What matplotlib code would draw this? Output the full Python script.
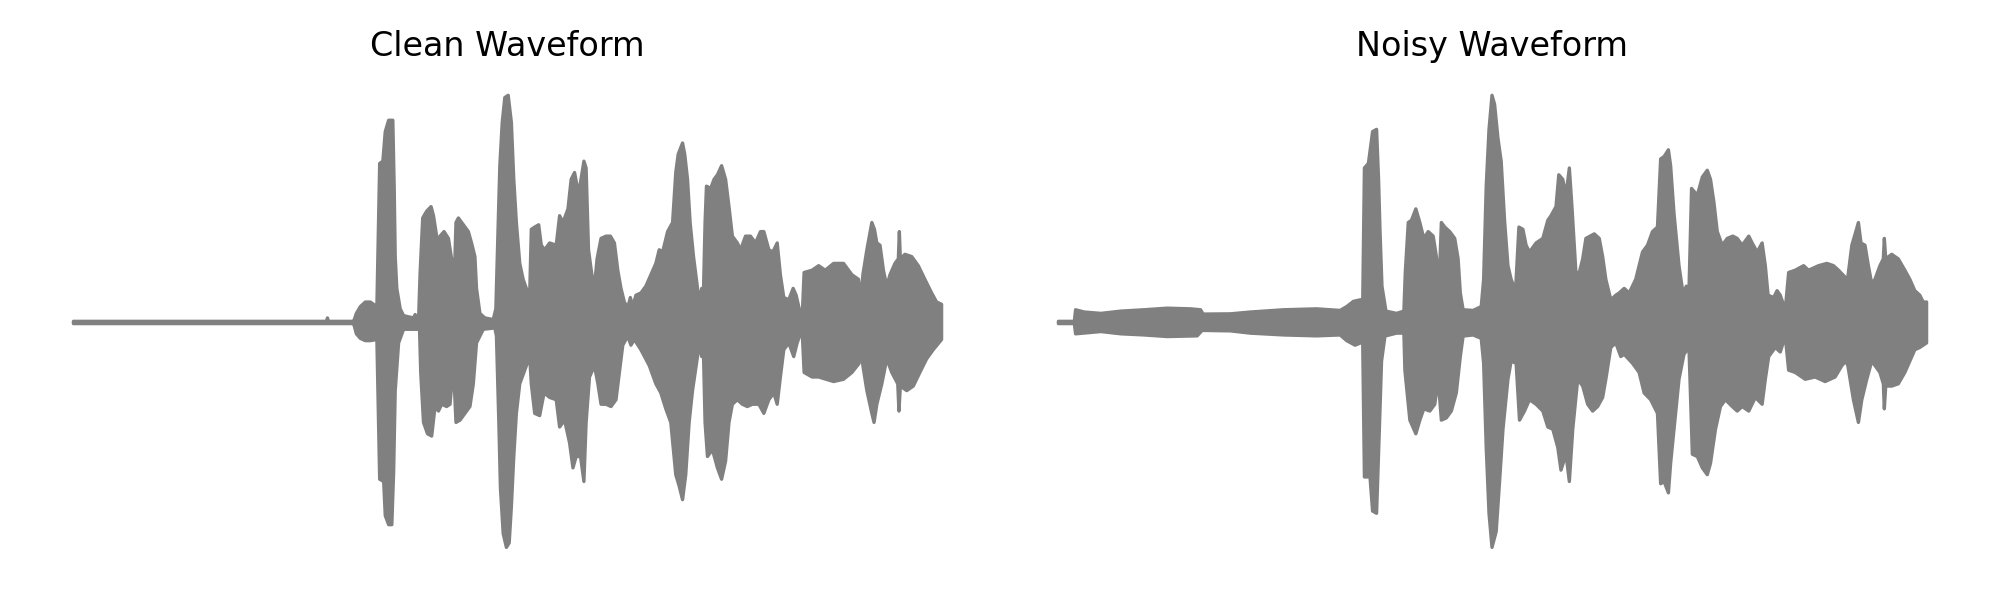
import numpy as np
import matplotlib
matplotlib.use("Agg")
import matplotlib.pyplot as plt

# envelope of the waveforms
# time in ms, amplitude normalised to the loudest peak

clean_t_up = [0, 1270, 1275, 1280, 1405, 1407, 1420, 1440, 1465,
              1490, 1523, 1537, 1553, 1565, 1582, 1603, 1610, 1615, 1623,
              1640, 1657, 1707, 1715, 1732, 1740, 1753, 1773, 1795, 1807,
              1823, 1832, 1840, 1860, 1882, 1898, 1910, 1920, 1932, 1957,
              1982, 1998, 2015, 2023, 2040, 2065, 2107, 2120, 2132, 2140,
              2152, 2165, 2182, 2198, 2210, 2223, 2240, 2257, 2273, 2290, 2298,
              2315, 2335, 2348, 2365, 2390, 2423, 2440, 2457, 2482, 2498,
              2515, 2528, 2540, 2562, 2573, 2585, 2602, 2615, 2628, 2648,
              2673, 2695, 2715, 2732, 2748, 2765, 2782, 2795, 2807, 2823,
              2848, 2873, 2898, 2923, 2940, 2957, 2982, 3007, 3023, 3035,
              3057, 3068, 3082, 3095, 3112, 3128,
              3140, 3153, 3160, 3170, 3177, 3198, 3215, 3232, 3253, 3273,
              3290, 3307, 3332, 3348, 3373, 3398, 3423, 3448, 3465, 3490,
              3510, 3532, 3548, 3565, 3590, 3612, 3627, 3640, 3657, 3667, 3707,
              3740, 3773, 3815, 3865, 3907, 3940, 3953, 3962, 3982, 4007,
              4020, 4032, 4048, 4065, 4082, 4098, 4123, 4140, 4145, 4150,
              4173, 4207, 4240, 4273, 4307, 4332, 4357]
clean_up = [0.005, 0.005, 0.02, 0.005, 0.005, 0.006, 0.04, 0.07, 0.09,
            0.09, 0.07, 0.70, 0.71, 0.84, 0.89, 0.89, 0.59, 0.29, 0.15,
            0.06, 0.03, 0.02, 0.035, 0.01, 0.22, 0.46, 0.49, 0.51, 0.47,
            0.38, 0.32, 0.38, 0.40, 0.37, 0.28, 0.15, 0.44, 0.46, 0.43,
            0.40, 0.35, 0.29, 0.15, 0.04, 0.02, 0.013, 0.06, 0.44, 0.69,
            0.88, 0.99, 1.00, 0.88, 0.63, 0.44, 0.26, 0.19, 0.15, 0.13, 0.41,
            0.42, 0.43, 0.34, 0.32, 0.35, 0.34, 0.47, 0.44, 0.50, 0.63,
            0.66, 0.60, 0.59, 0.71, 0.68, 0.32, 0.21, 0.16, 0.28, 0.37,
            0.38, 0.38, 0.35, 0.23, 0.15, 0.09, 0.065, 0.11, 0.07, 0.12,
            0.13, 0.16, 0.21, 0.26, 0.32, 0.31, 0.40, 0.44, 0.66, 0.74,
            0.79, 0.74, 0.63, 0.44, 0.29, 0.18,
            0.09, 0.15, 0.06, 0.44, 0.60, 0.59, 0.63, 0.65, 0.69, 0.63,
            0.51, 0.38, 0.35, 0.32, 0.38, 0.38, 0.35, 0.40, 0.40, 0.32,
            0.31, 0.35, 0.21, 0.11, 0.10, 0.15, 0.12, 0.07, 0.013, 0.22, 0.23,
            0.25, 0.23, 0.26, 0.26, 0.21, 0.19, 0.10, 0.21, 0.32, 0.44,
            0.41, 0.35, 0.34, 0.23, 0.16, 0.21, 0.26, 0.28, 0.40, 0.28,
            0.30, 0.29, 0.25, 0.19, 0.13, 0.09, 0.08]

clean_t_low = [0, 1405, 1407, 1420, 1440, 1465,
               1490, 1523, 1537, 1557, 1565, 1582, 1598, 1607, 1615, 1632,
               1657, 1715, 1737, 1743, 1757, 1777, 1798, 1815, 1832, 1848,
               1873, 1890, 1907, 1920, 1940, 1965, 1990, 2007, 2023, 2057,
               2115, 2123, 2135, 2143, 2157, 2173, 2187, 2198, 2210, 2223,
               2240, 2265, 2290, 2298,
               2315, 2340, 2362, 2390, 2423, 2440, 2465, 2490, 2507, 2523,
               2545, 2562, 2573, 2590, 2615, 2632, 2648, 2673, 2698, 2723,
               2740, 2757, 2782, 2798, 2815, 2848, 2890, 2923, 2948, 2973,
               2998, 3023, 3040, 3057, 3073, 3090, 3107, 3132,
               3140, 3153, 3160, 3170, 3182, 3207, 3232, 3253, 3273, 3290,
               3307, 3332, 3357, 3382, 3407, 3440, 3465, 3490, 3515, 3532,
               3548, 3565, 3590, 3615, 3632, 3657, 3667, 3707,
               3740, 3815, 3865, 3907, 3943, 3953, 3962, 3982, 4007, 4018,
               4032, 4057, 4082, 4107, 4137, 4143, 4150, 4182, 4215, 4248,
               4282, 4315, 4357]
clean_low = [-0.005, -0.005, -0.006, -0.05, -0.07, -0.08,
             -0.08, -0.075, -0.69, -0.70, -0.85, -0.89, -0.89, -0.66, -0.30, -0.09,
             -0.03, -0.03, -0.03, -0.22, -0.44, -0.49, -0.50, -0.37, -0.39, -0.36,
             -0.37, -0.36, -0.19, -0.44, -0.43, -0.40, -0.37, -0.27, -0.09, -0.03,
             -0.024, -0.06, -0.44, -0.73, -0.93, -0.99, -0.97, -0.81, -0.59, -0.40,
             -0.27, -0.21, -0.15, -0.27,
             -0.40, -0.41, -0.31, -0.33, -0.34, -0.46, -0.43, -0.53, -0.64, -0.59,
             -0.59, -0.70, -0.44, -0.24, -0.19, -0.27, -0.36, -0.36, -0.37, -0.34,
             -0.22, -0.10, -0.06, -0.10, -0.075, -0.12, -0.19, -0.27, -0.31, -0.38,
             -0.44, -0.67, -0.72, -0.78, -0.67, -0.44, -0.30, -0.15,
             -0.09, -0.15, -0.06, -0.44, -0.59, -0.56, -0.64, -0.69, -0.61, -0.44,
             -0.36, -0.34, -0.36, -0.37, -0.36, -0.36, -0.40, -0.34, -0.31, -0.36,
             -0.24, -0.12, -0.09, -0.15, -0.09, -0.03, -0.22, -0.24,
             -0.24, -0.26, -0.25, -0.22, -0.18, -0.10, -0.19, -0.30, -0.40, -0.44,
             -0.36, -0.27, -0.16, -0.22, -0.27, -0.39, -0.28, -0.30, -0.28, -0.22,
             -0.16, -0.12, -0.075]

noisy_t_up = [2, 82, 88, 132, 215, 315, 432, 548, 665, 715, 728, 865, 965, 1132, 1298, 1415,
              1448, 1482, 1518, 1528, 1537, 1557, 1578, 1598, 1608, 1615, 1625, 1645, 1698, 1735, 1742,
              1757, 1773, 1795, 1815, 1835, 1857, 1882, 1898, 1912, 1923, 1940, 1965, 1990, 2007, 2018,
              2032, 2082, 2123, 2135, 2148, 2162, 2177, 2190, 2207, 2223, 2240, 2257, 2273, 2295, 2312,
              2332, 2348, 2365, 2398, 2432, 2457, 2473, 2498, 2512, 2532, 2548, 2565, 2578, 2598, 2615,
              2632, 2648, 2690, 2715, 2732, 2748, 2773, 2798, 2815,
              2840, 2865, 2898, 2932, 2957, 2982, 3007, 3023, 3040, 3062, 3073, 3090, 3115, 3135, 3152,
              3165, 3178, 3207, 3232, 3257, 3273, 3290, 3307, 3332, 3357, 3385, 3407, 3432, 3465, 3482,
              3507, 3532, 3548, 3562, 3590, 3607, 3623, 3648, 3665, 3698, 3740, 3765, 3815, 3857, 3890,
              3915, 3948, 3955, 3962, 3982, 4002, 4015, 4028, 4048, 4065, 4082, 4098, 4123, 4140, 4145,
              4152, 4182, 4215, 4248, 4273, 4298, 4323, 4340, 4357]
noisy_up = [0.005, 0.005, 0.056, 0.046, 0.04, 0.05, 0.056, 0.063, 0.06, 0.056, 0.037, 0.038, 0.046, 0.056, 0.06,
            0.053, 0.07, 0.093, 0.10, 0.056, 0.68, 0.70, 0.84, 0.85, 0.63, 0.41, 0.16, 0.05, 0.04, 0.05,
            0.22, 0.44, 0.45, 0.50, 0.44, 0.37, 0.40, 0.38, 0.29, 0.17, 0.44, 0.42, 0.40, 0.37, 0.28,
            0.13, 0.056, 0.053, 0.07, 0.19, 0.60, 0.85, 1.00, 0.96, 0.81, 0.71, 0.45, 0.25, 0.19, 0.14,
            0.42, 0.41, 0.34, 0.31, 0.35, 0.37, 0.45, 0.47, 0.51, 0.65, 0.63, 0.56, 0.68, 0.51, 0.22,
            0.22, 0.28, 0.37, 0.39, 0.37, 0.29, 0.19, 0.10, 0.12, 0.13,
            0.15, 0.13, 0.19, 0.31, 0.34, 0.40, 0.42, 0.72, 0.73, 0.76, 0.69, 0.48, 0.25, 0.13, 0.16,
            0.14, 0.59, 0.56, 0.64, 0.67, 0.63, 0.53, 0.40, 0.34, 0.37, 0.38, 0.37, 0.34, 0.38, 0.35,
            0.31, 0.35, 0.25, 0.12, 0.11, 0.14, 0.12, 0.056, 0.22, 0.23, 0.25, 0.23, 0.25, 0.26, 0.25,
            0.23, 0.20, 0.12, 0.20, 0.34, 0.40, 0.44, 0.35, 0.34, 0.25, 0.17, 0.19, 0.25, 0.28, 0.37,
            0.28, 0.30, 0.28, 0.23, 0.19, 0.14, 0.12, 0.09, 0.09]

noisy_t_low = [2, 82, 88, 215, 315, 432, 548, 698, 723, 865, 965, 1132, 1298, 1415,
               1448, 1490, 1518, 1528, 1537, 1565, 1578, 1598, 1612, 1623, 1640, 1698, 1735, 1740, 1765,
               1795, 1815, 1835, 1865, 1890, 1907, 1923, 1948, 1973, 1998, 2018, 2032, 2082, 2123, 2135,
               2148, 2162, 2177, 2198, 2215, 2232, 2257, 2273, 2298, 2315, 2340, 2365, 2398, 2432, 2457,
               2482, 2507, 2523, 2548, 2565, 2582, 2607, 2632, 2657, 2682, 2707, 2732, 2748, 2773, 2798,
               2823,
               2840, 2882, 2915, 2940, 2973, 3007, 3023, 3040, 3062, 3073, 3090, 3115, 3140, 3165, 3182,
               3207, 3232, 3257, 3273, 3298, 3323, 3348, 3382, 3407, 3432, 3465, 3498, 3532, 3548, 3565,
               3598, 3623, 3648, 3665, 3698, 3748, 3798, 3848, 3898, 3932, 3952, 3962, 3990, 4015, 4032,
               4057, 4082, 4123, 4140, 4145, 4152, 4182, 4215, 4248, 4273, 4298, 4323, 4357]
noisy_low = [-0.005, -0.005, -0.05, -0.04, -0.05, -0.055, -0.062, -0.059, -0.035, -0.037, -0.047, -0.055,
             -0.059, -0.055,
             -0.08, -0.10, -0.09, -0.06, -0.68, -0.68, -0.83, -0.84, -0.47, -0.17, -0.06, -0.047, -0.047,
             -0.21, -0.43, -0.49, -0.43, -0.38, -0.39, -0.36, -0.25, -0.43, -0.42, -0.39, -0.31, -0.15,
             -0.06, -0.055, -0.07, -0.18, -0.55, -0.84, -0.99, -0.92, -0.70, -0.47, -0.25, -0.17, -0.18,
             -0.43, -0.39, -0.34, -0.36, -0.39, -0.46, -0.47, -0.55, -0.65, -0.58, -0.70, -0.47, -0.25,
             -0.28, -0.36, -0.39, -0.37, -0.33, -0.25, -0.11, -0.09, -0.15,
             -0.14, -0.18, -0.22, -0.31, -0.34, -0.40, -0.71, -0.70, -0.75, -0.62, -0.47, -0.25, -0.14,
             -0.11, -0.58, -0.59, -0.64, -0.67, -0.62, -0.47, -0.37, -0.34, -0.37, -0.39, -0.37, -0.39,
             -0.33, -0.36, -0.25, -0.15, -0.11, -0.13, -0.06, -0.21, -0.22, -0.25, -0.24, -0.26, -0.24,
             -0.19, -0.17, -0.19, -0.34, -0.44, -0.34, -0.25, -0.17, -0.22, -0.27, -0.38, -0.28, -0.28,
             -0.27, -0.22, -0.17, -0.12, -0.11, -0.09]

titles = ["Clean Waveform", "Noisy Waveform"]
waves = [(clean_t_up, clean_up, clean_t_low, clean_low),
         (noisy_t_up, noisy_up, noisy_t_low, noisy_low)]

fig, axes = plt.subplots(1, 2, figsize=(10, 3), dpi=200)

for ax, title, (tu, au, tl, al) in zip(axes, titles, waves):
    assert len(tu) == len(au) and len(tl) == len(al)
    xs = np.concatenate([tu, tl[::-1]]) / 1000.0
    ys = np.concatenate([au, al[::-1]])
    ax.fill(xs, ys, facecolor='gray', edgecolor='gray', linewidth=1.2, joinstyle='round')
    ax.set_title(title)
    ax.axis('off')

plt.tight_layout()
plt.savefig('out.png')
